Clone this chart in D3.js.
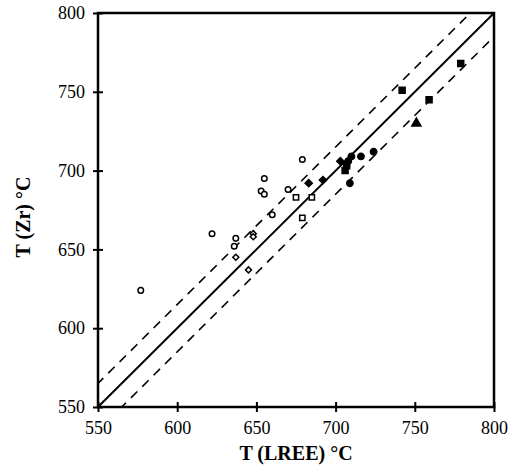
<!DOCTYPE html>
<html>
<head>
<meta charset="utf-8">
<script src="https://cdn.jsdelivr.net/npm/d3@7"></script>
<style>
  body { margin: 0; background: #fff; }
  text { font-family: "Liberation Serif", "Times New Roman", serif; fill: #000; }
</style>
</head>
<body>
<svg id="chart" width="521" height="475"></svg>
<script>
// T(LREE) vs T(Zr)
var openCircles   = [[577, 624], [622, 660], [636, 652], [637, 657], [653, 687], [655, 685], [655, 695], [660, 672], [670, 688], [679, 707]];
var openSquares   = [[675, 683], [685, 683], [679, 670]];
var openDiamonds  = [[637, 645], [645, 637], [648, 660], [648, 658]];
var fillDiamonds  = [[683, 692], [692, 694], [703, 706]];
var fillSquares   = [[706, 700], [707, 703], [742, 751], [759, 745], [779, 768]];
var fillCircles   = [[708, 706], [709, 692], [710, 709], [716, 709], [724, 712]];
var fillTriangles = [[751, 730]];

var ticks = [550, 600, 650, 700, 750, 800];
var offset = 15; // dashed envelope around 1:1

var margin = {top: 13, right: 27, bottom: 68, left: 98};
var width = 521 - margin.left - margin.right;
var height = 475 - margin.top - margin.bottom;

var x = d3.scaleLinear().domain([550, 800]).range([0, width]);
var y = d3.scaleLinear().domain([550, 800]).range([height, 0]);

var svg = d3.select("#chart");
var g = svg.append("g").attr("transform", "translate(" + margin.left + "," + margin.top + ")");

g.append("clipPath").attr("id", "clip")
  .append("rect").attr("width", width).attr("height", height);
var plot = g.append("g").attr("clip-path", "url(#clip)");

// 1:1 line and +-15 dashed lines
var line = d3.line().x(function(d) { return x(d[0]); }).y(function(d) { return y(d[1]); });
plot.append("path")
    .attr("d", line([[550, 550], [800, 800]]))
    .attr("stroke", "#000").attr("stroke-width", 2).attr("fill", "none");
[offset, -offset].forEach(function(o) {
  plot.append("path")
      .attr("d", line([[535, 535 + o], [815, 815 + o]]))
      .attr("stroke", "#000").attr("stroke-width", 1.6)
      .attr("stroke-dasharray", "9,7").attr("fill", "none");
});

function drawSeries(data, type, size, filled, rot) {
  plot.selectAll(null).data(data).enter().append("path")
      .attr("transform", function(d) {
        return "translate(" + x(d[0]) + "," + y(d[1]) + ")" + (rot ? " rotate(45)" : "");
      })
      .attr("d", d3.symbol().type(type).size(size))
      .attr("fill", filled ? "#000" : "#fff")
      .attr("stroke", "#000")
      .attr("stroke-width", 1.5);
}

drawSeries(openCircles, d3.symbolCircle, 24, false);
drawSeries(openSquares, d3.symbolSquare, 28, false);
drawSeries(openDiamonds, d3.symbolSquare, 18, false, true);
drawSeries(fillDiamonds, d3.symbolSquare, 26, true, true);
drawSeries(fillSquares, d3.symbolSquare, 36, true);
drawSeries(fillCircles, d3.symbolCircle, 32, true);
drawSeries(fillTriangles, d3.symbolTriangle, 36, true);

// frame
g.append("rect")
    .attr("width", width).attr("height", height)
    .attr("fill", "none").attr("stroke", "#000").attr("stroke-width", 2.5);

// axes with ticks crossing the frame
var xAxis = g.append("g")
    .attr("transform", "translate(0," + height + ")")
    .call(d3.axisBottom(x).tickValues(ticks).tickSize(5).tickPadding(9));
xAxis.selectAll(".tick line").attr("y1", -5).attr("stroke-width", 2);
var yAxis = g.append("g")
    .call(d3.axisLeft(y).tickValues(ticks).tickSize(5).tickPadding(8));
yAxis.selectAll(".tick line").attr("x1", 5).attr("x2", -5).attr("stroke-width", 2);
g.selectAll(".domain").remove();
g.selectAll(".tick text")
    .attr("font-family", "Liberation Serif, serif")
    .attr("font-size", 18);

g.append("text")
    .attr("x", width / 2).attr("y", height + 53)
    .attr("text-anchor", "middle")
    .attr("font-size", 20).attr("font-weight", "bold")
    .text("T (LREE) °C");

g.append("text")
    .attr("transform", "translate(-68," + (height / 2 + 7) + ") rotate(-90)")
    .attr("text-anchor", "middle")
    .attr("font-size", 20).attr("font-weight", "bold")
    .text("T (Zr) °C");
</script>
</body>
</html>
